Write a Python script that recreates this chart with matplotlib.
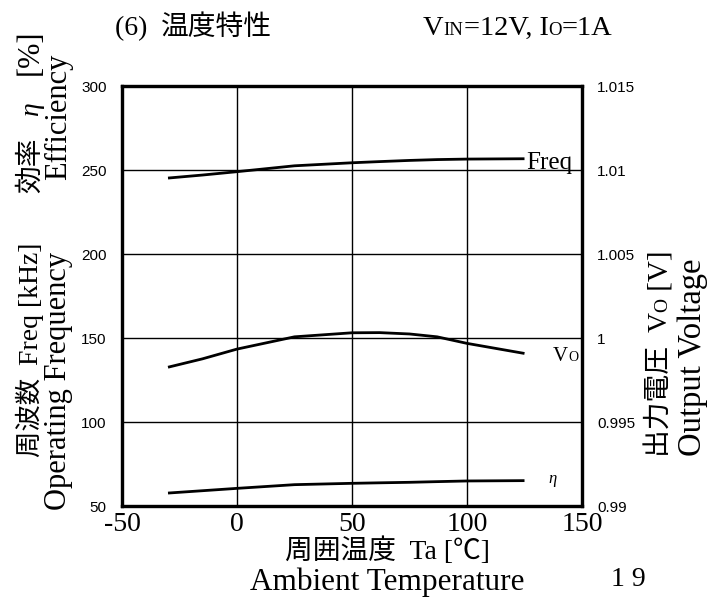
import numpy as np
import matplotlib
matplotlib.use("Agg")
import matplotlib.pyplot as plt

# values
temp = [-30, -15, 0, 25, 50, 62, 75, 87, 100, 125]
freq = [245.2, 247.0, 249.0, 252.5, 254.3, 255.0, 255.7, 256.2, 256.5, 256.7]
vout = [0.99826, 0.99876, 0.99934, 1.00007, 1.00031, 1.00032, 1.00024, 1.00007, 0.99968, 0.99908]
eta = [57.7, 59.1, 60.5, 62.7, 63.5, 63.8, 64.1, 64.5, 64.9, 65.1]

x_ticks = [-50, 0, 50, 100, 150]
left_ticks = [300, 250, 200, 150, 100, 50]
right_ticks = [1.015, 1.01, 1.005, 1.0, 0.995, 0.99]
right_labels = ["1.015", "1.01", "1.005", "1", "0.995", "0.99"]

W, H = 715, 607
SERIF = ["Liberation Serif", "Noto Sans CJK JP"]
SANS = ["Liberation Sans", "DejaVu Sans"]

fig = plt.figure(figsize=(W / 100, H / 100), dpi=100)
ax = fig.add_axes([122 / W, 1 - 506 / H, (582 - 122) / W, (506 - 86) / H])
ax2 = ax.twinx()

ax.set_xlim(-50, 150)
ax.set_ylim(50, 300)
ax2.set_ylim(0.99, 1.015)

ax.set_xticks(x_ticks, labels=[str(v) for v in x_ticks], family=SERIF, fontsize=20)
ax.set_yticks(left_ticks, labels=[str(v) for v in left_ticks], family=SANS, fontsize=11)
ax2.set_yticks(right_ticks, labels=right_labels, family=SANS, fontsize=11)
ax.tick_params(axis="both", length=0)
ax.tick_params(axis="y", pad=11)
ax.tick_params(axis="x", pad=4)
ax2.tick_params(axis="y", length=0, pad=11)

ax.grid(True, color="black", linewidth=1.0)
for a in (ax, ax2):
    for sp in a.spines.values():
        sp.set_linewidth(2.3)

ax.plot(temp, freq, color="black", lw=2.0, solid_capstyle="butt")
ax.plot(temp, eta, color="black", lw=2.0, solid_capstyle="butt")
ax2.plot(temp, vout, color="black", lw=2.0, solid_capstyle="butt")

ax.annotate("Freq", (temp[-1], freq[-1]), xytext=(1, -3), textcoords="offset points",
            family=SERIF, fontsize=18, ha="left", va="center")
ax.annotate("\u03b7", (temp[-1], eta[-1]), xytext=(17, 1), textcoords="offset points",
            family=SERIF, fontsize=12, style="italic", ha="left", va="center")

renderer = fig.canvas.get_renderer()


def chain(pieces, x, y, rotation=0):
    # place text pieces one after another, starting at pixel (x, y) from top-left
    px, py = x, H - y
    for s, size, *style in pieces:
        t = fig.text(px / 100, py / 100, s, transform=fig.dpi_scale_trans,
                     family=SERIF, fontsize=size, rotation=rotation,
                     style=style[0] if style else "normal",
                     rotation_mode="anchor", ha="left", va="baseline")
        bb = t.get_window_extent(renderer)
        if rotation == 90:
            py += bb.height
        else:
            px += bb.width


# V_O label next to its curve
chain([("V", 15), ("O", 10)], 553, 361)

# title line
chain([("(6)  ", 20), ("温度特性", 20)], 115, 35)
chain([("V", 20.5), ("IN", 13.5), ("=12V, I", 20.5), ("O", 13.5), ("=1A", 20.5)], 423, 35)

# left axis labels
chain([("周波数  ", 19), ("Freq [kHz]", 20)], 38, 457, rotation=90)
chain([("効率", 20), ("   ", 20), ("\u03b7", 20, "italic"), ("    ", 20), ("[%]", 22)],
      38, 193, rotation=90)
chain([("Operating Frequency", 22)], 66, 510, rotation=90)
chain([("Efficiency", 22)], 66, 180, rotation=90)

# right axis labels
chain([("出力電圧  ", 20), ("V", 20), ("O", 14), (" [V]", 21)], 667, 457, rotation=90)
chain([("Output Voltage", 23.5)], 701, 456, rotation=90)

# x axis labels
fig.text(387 / W, 1 - 551 / H, "周囲温度  Ta [℃]", family=SERIF, fontsize=20, ha="center", va="center")
fig.text(387 / W, 1 - 582 / H, "Ambient Temperature", family=SERIF, fontsize=22.5, ha="center", va="center")
fig.text(628 / W, 1 - 580 / H, "1 9", family=SERIF, fontsize=20, ha="center", va="center")

fig.savefig("out.png", dpi=100)
